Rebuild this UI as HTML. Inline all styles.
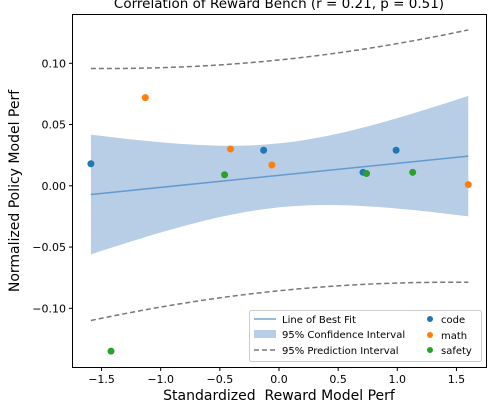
<!DOCTYPE html>
<html><head><meta charset="utf-8"><style>
body{margin:0;background:#fff}
svg text{font-family:"DejaVu Sans","Liberation Sans",sans-serif}
</style></head><body>
<svg id="chart" width="493" height="404" viewBox="0 0 493 404" xmlns="http://www.w3.org/2000/svg">
<defs><clipPath id="clip"><rect x="72.5" y="14.5" width="414" height="353"/></clipPath></defs>
<text x="279" y="8" font-size="13.5" text-anchor="middle">Correlation of Reward Bench (r = 0.21, p = 0.51)</text>
<g id="plot" clip-path="url(#clip)"></g>
<rect x="72.5" y="14.5" width="414" height="353" fill="none" stroke="#000" stroke-width="1"/>
<g id="axes"></g>
<text x="279" y="400" font-size="14" text-anchor="middle">Standardized&#160; Reward Model Perf</text>
<text transform="translate(19,191) rotate(-90)" font-size="14" text-anchor="middle">Normalized Policy Model Perf</text>
<g>
<rect x="249.5" y="310.5" width="232" height="51" rx="2" fill="#fff" fill-opacity="0.8" stroke="#ccc"/>
<line x1="254" y1="319" x2="276" y2="319" stroke="#4f8fc9" stroke-opacity="0.8" stroke-width="1.5"/>
<text x="282" y="323" font-size="10">Line of Best Fit</text>
<rect x="254" y="330" width="22" height="8" fill="#b8cde6"/>
<text x="282" y="338" font-size="10">95% Confidence Interval</text>
<line x1="254" y1="350" x2="276" y2="350" stroke="#777" stroke-width="1.5" stroke-dasharray="5,3"/>
<text x="282" y="354" font-size="10">95% Prediction Interval</text>
<circle cx="430" cy="319" r="3" fill="#1f77b4"/><text x="441" y="323" font-size="10">code</text>
<circle cx="430" cy="335" r="3" fill="#ff7f0e"/><text x="441" y="339" font-size="10">math</text>
<circle cx="430" cy="350" r="3" fill="#2ca02c"/><text x="441" y="354" font-size="10">safety</text>
</g>
</svg>
<script>
const codeX=[-1.59,-0.13,0.71,0.99];
const codeY=[0.018,0.029,0.011,0.029];
const mathX=[-1.13,-0.41,-0.06,1.60];
const mathY=[0.072,0.030,0.017,0.001];
const safetyX=[-0.46,0.74,1.13,-1.42];
const safetyY=[0.009,0.010,0.011,-0.135];
const xTicks=[-1.5,-1.0,-0.5,0.0,0.5,1.0,1.5];
const yTicks=[-0.10,-0.05,0.00,0.05,0.10];
const NS="http://www.w3.org/2000/svg";
const sx=v=>279+v*118.3, sy=v=>185.8-v*1225;
function mk(tag,attrs,parent){const e=document.createElementNS(NS,tag);for(const k in attrs)e.setAttribute(k,attrs[k]);parent.appendChild(e);return e;}
const plot=document.getElementById('plot'), axes=document.getElementById('axes');
const X=[...codeX,...mathX,...safetyX], Y=[...codeY,...mathY,...safetyY];
const n=X.length, mx=X.reduce((a,b)=>a+b)/n, my=Y.reduce((a,b)=>a+b)/n;
let sxx=0,sxy=0;for(let i=0;i<n;i++){sxx+=(X[i]-mx)**2;sxy+=(X[i]-mx)*(Y[i]-my);}
const b=sxy/sxx,a=my-b*mx;let sse=0;for(let i=0;i<n;i++)sse+=(Y[i]-a-b*X[i])**2;
const s=Math.sqrt(sse/(n-2)),t=1.81;
const xmin=Math.min(...X),xmax=Math.max(...X);
const xs=[];for(let i=0;i<=60;i++)xs.push(xmin+(xmax-xmin)*i/60);
const fit=x=>a+b*x, ci=x=>t*s*Math.sqrt(1/n+(x-mx)**2/sxx), pi=x=>t*s*Math.sqrt(1+1/n+(x-mx)**2/sxx);
let band=xs.map(x=>sx(x)+','+sy(fit(x)+ci(x))).concat(xs.slice().reverse().map(x=>sx(x)+','+sy(fit(x)-ci(x))));
const ciEl=mk('polygon',{points:band.join(' '),fill:'#b8cde6'},plot);


[1,-1].forEach(sg=>{const p=mk('polyline',{points:xs.map(x=>sx(x)+','+sy(fit(x)+sg*pi(x))).join(' '),fill:'none',stroke:'#777','stroke-width':1.5,'stroke-dasharray':'5,3'},plot);

});
const fl=mk('line',{x1:sx(xmin),y1:sy(fit(xmin)),x2:sx(xmax),y2:sy(fit(xmax)),stroke:'#4f8fc9','stroke-opacity':0.8,'stroke-width':1.5},plot);


[[codeX,codeY,'#1f77b4','code'],[mathX,mathY,'#ff7f0e','math'],[safetyX,safetyY,'#2ca02c','safety']].forEach(([xx,yy,c,nm])=>{
xx.forEach((x,i)=>{const d=mk('circle',{cx:sx(x),cy:sy(yy[i]),r:3.5,fill:c},plot);

});});
xTicks.forEach(v=>{const g=mk('g',{},axes);


mk('line',{x1:sx(v),y1:367.5,x2:sx(v),y2:371,stroke:'#000'},g);
mk('text',{x:sx(v),y:383,'font-size':11,'text-anchor':'middle'},g).textContent=v.toFixed(1).replace('-','\u2212');});
yTicks.forEach(v=>{const g=mk('g',{},axes);


mk('line',{x1:69,y1:sy(v),x2:72.5,y2:sy(v),stroke:'#000'},g);
mk('text',{x:66,y:sy(v)+4,'font-size':11,'text-anchor':'end'},g).textContent=v.toFixed(2).replace('-','\u2212');});
</script>
</body></html>
